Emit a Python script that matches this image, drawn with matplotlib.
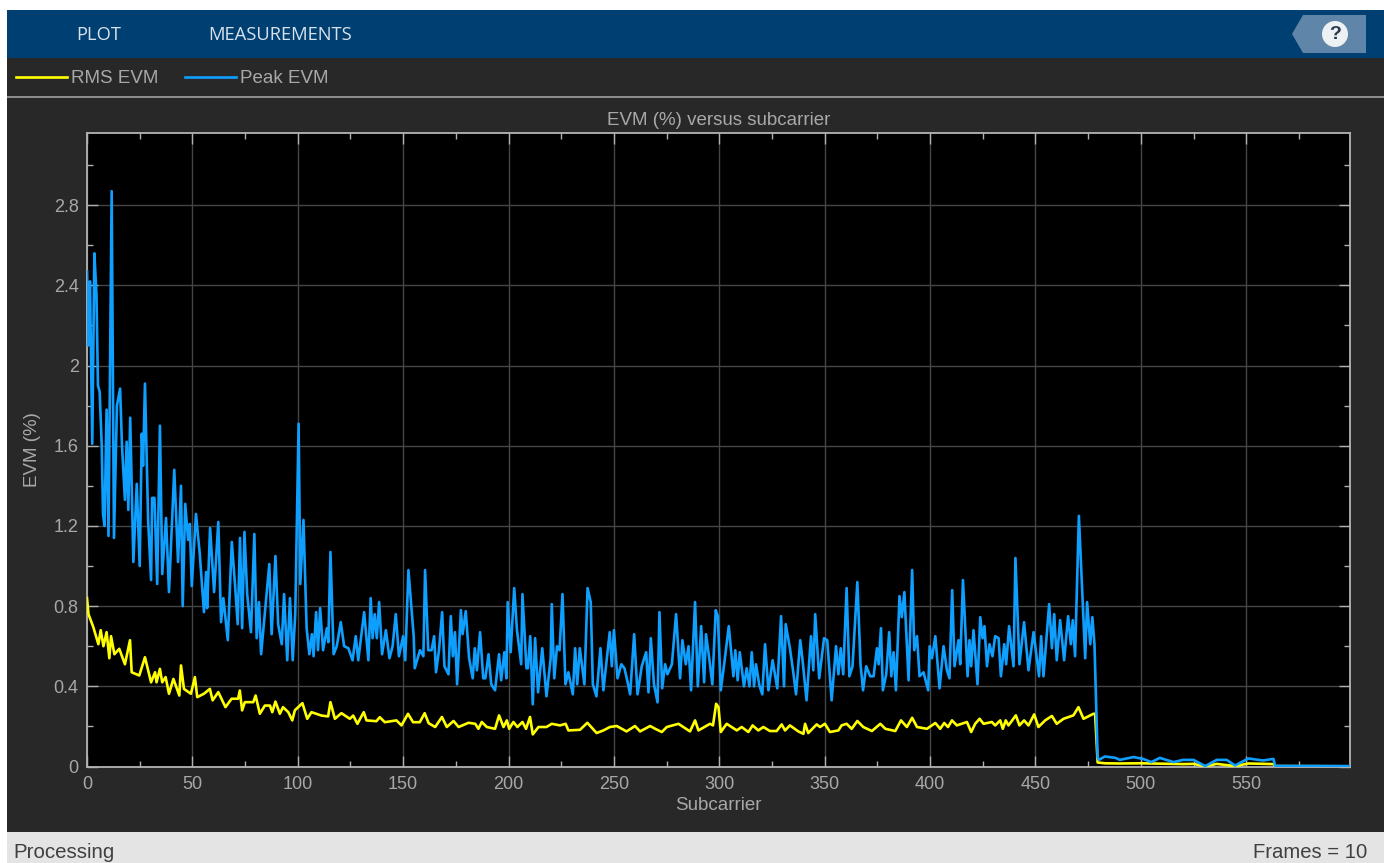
import matplotlib
matplotlib.use("Agg")
from matplotlib import pyplot as plt
from matplotlib.patches import Rectangle, Polygon, Circle
from matplotlib.ticker import MultipleLocator

W, H = 1384, 863

peak_x = [0, 0.6, 1.4, 2.5, 3.5, 4.5, 5.2, 6, 7, 7.6, 8.3, 9.3, 10.2, 11.7, 12.8, 14.2, 15.7, 16.6,
          18, 18.8, 19.6, 20.5, 22, 23.6, 25, 26, 26.6, 27.5, 29, 30.4, 30.9, 32, 33.3, 34.6, 35.7,
          37.5, 38.9, 41.4, 43.2, 44.6, 45.4, 46.6, 48, 48.8, 49.7, 51.7, 53.5, 55.5, 56.5, 57, 58.4,
          60.3, 62.3, 63.6, 64.7, 66.8, 68.7, 70.2, 71.5, 72.6, 73.6, 74.7, 76, 77.8, 79.4, 80.5,
          81.6, 82.6, 84.5, 86.5, 87.6, 89.4, 90.7, 92.4, 93.5, 95, 96.3, 97.6, 98.8, 100.4, 101.2,
          102.7, 104.2, 105.5, 106.7, 107.5, 108.7, 109.6, 110.6, 112, 113.8, 114.5, 115.5, 117,
          118.5, 120.4, 122, 124, 126, 127.5, 128.7, 131.5, 133.5, 134.6, 135.5, 136.5, 137.5, 138.6,
          140, 141.8, 143.5, 145, 146.5, 148, 150, 151, 152.5, 155, 155.5, 158, 159.6, 160.4, 161.9,
          163.5, 164.7, 165.6, 167, 168.5, 169.6, 171.5, 172.6, 173.6, 174.6, 175.6, 177.4, 178.2,
          179.7, 181.3, 183, 184, 185, 186.5, 188, 189, 190.5, 191.8, 193.6, 195.5, 196.5, 198, 199,
          199.6, 201, 202.7, 204, 206, 206.6, 208.5, 209.2, 210.3, 211.5, 212.6, 214, 216, 218, 220,
          220.5, 221.7, 223, 224.2, 225.6, 227, 228.4, 230.5, 231.6, 232.6, 233.8, 236, 237.5, 239,
          240, 241.7, 243.6, 245, 248, 249, 250, 251.7, 253.5, 255, 256.5,
          257.7, 259.6, 261.2, 263.2, 265.3, 266.4, 267.5, 269, 270.7, 271.6, 272.9, 274.3, 275.4,
          277.5, 279.5, 281.4, 282.5, 284.1, 285.4, 286.6, 288.5, 289.8, 291.4, 292.8, 293.7, 295.1,
          296.7, 298.3, 299.3, 300.7, 302.3, 304.5, 306.7, 307.6, 308.7, 309.7, 311.7, 313, 314.3,
          315.4, 316.5, 317.4, 319, 320.4, 321.7, 323.3, 325.3, 327.5, 329.3, 330.7, 331.5, 333.5,
          335.1, 336.4, 338.4, 339.5, 341.4, 343.5, 344.6, 345.5, 347.4, 349.7, 351.2, 353.3, 355.4,
          356.5, 357.6, 358.8, 360.4, 361.7, 363.2, 365.5, 367,
          368.2, 369.7, 371.6, 373.2, 374.8, 375.6, 376.7, 377.6, 379.2, 380.6, 381.6, 382.7, 383.8,
          385.5, 386.6, 387.8, 389.8, 391.5, 392.5, 393.8, 395, 396.9, 399.1, 399.8, 400.9, 402.5,
          404.5, 406.4, 408, 409.2, 410.5, 411.6, 413.5, 414.3, 415.6, 417.8, 418.7, 419.5, 420.6,
          422.5, 423.8, 424.9, 425.8, 427, 428.2, 429.6, 430.9, 432.5, 433.6, 435.2, 436.1, 437.5,
          439.6, 440.5, 442.4, 444.6, 446.7, 449.1, 451.7, 452.7, 453.8, 456.5, 457.8, 458.9, 460.1,
          461.7, 463.6, 465.5, 466.8, 467.7, 468.8, 470.6, 473.6, 474.5, 476, 477, 478, 479.5,
          480, 483, 488, 490, 496.5, 501, 505, 509, 515.5, 520, 525, 530.5, 536, 540.7, 544.7, 551,
          558, 562.9, 563.7, 599]
peak_y = [2.47, 2.1, 2.42, 1.61, 2.56, 2.35, 1.9, 1.87, 1.6, 1.26, 1.2, 1.78, 1.15, 2.87, 1.14, 1.8, 1.885, 1.6,
          1.33, 1.62, 1.28, 1.74, 1.02, 1.41, 1.0, 1.66, 1.5, 1.91, 1.23, 0.93, 1.34, 1.34, 0.91, 1.70, 0.96,
          1.24, 0.87, 1.48, 1.02, 1.40, 0.80, 1.31, 1.13, 1.21, 0.90, 1.26, 1.06, 0.77, 0.97, 0.79, 1.19,
          0.87, 1.22, 0.72, 0.84, 0.63, 1.12, 0.91, 0.71, 1.14, 0.69, 1.17, 0.86, 0.67, 1.16, 0.64,
          0.82, 0.56, 0.78, 1.01, 0.66, 1.05, 0.71, 0.61, 0.86, 0.53, 0.84, 0.53, 0.76, 1.71, 0.91,
          1.23, 0.69, 0.56, 0.66, 0.55, 0.77, 0.58, 0.79, 0.58, 0.69, 0.62, 1.07, 0.56,
          0.60, 0.72, 0.60, 0.59, 0.53, 0.65, 0.53, 0.77, 0.53, 0.84, 0.64, 0.76, 0.64, 0.82,
          0.56, 0.68, 0.54, 0.60, 0.76, 0.55, 0.65, 0.53, 0.98, 0.65, 0.49, 0.58, 0.55, 0.98, 0.58,
          0.58, 0.65, 0.47, 0.58, 0.77, 0.50, 0.46, 0.75, 0.55, 0.67, 0.41, 0.78, 0.66,
          0.775, 0.54, 0.44, 0.59, 0.48, 0.67, 0.44, 0.44, 0.56, 0.41, 0.38, 0.56, 0.43, 0.57, 0.44,
          0.82, 0.57, 0.89, 0.68, 0.51, 0.86, 0.49, 0.49, 0.65, 0.31, 0.64, 0.37, 0.59, 0.35, 0.54,
          0.81, 0.44, 0.60, 0.58, 0.86, 0.41, 0.47, 0.36, 0.59, 0.41, 0.59, 0.41, 0.89, 0.82,
          0.41, 0.35, 0.59, 0.38, 0.67, 0.50, 0.68, 0.44, 0.51, 0.49, 0.42,
          0.36, 0.66, 0.36, 0.50, 0.57, 0.37, 0.64, 0.41, 0.32, 0.77, 0.39, 0.51, 0.46,
          0.51, 0.76, 0.44, 0.63, 0.51, 0.60, 0.38, 0.82, 0.40, 0.70, 0.42, 0.66, 0.55,
          0.41, 0.78, 0.75, 0.38, 0.51, 0.70, 0.45, 0.58, 0.43, 0.57, 0.40, 0.49, 0.40,
          0.57, 0.40, 0.51, 0.405, 0.36, 0.61, 0.38, 0.53, 0.39, 0.75, 0.40, 0.71, 0.59,
          0.47, 0.36, 0.63, 0.53, 0.33, 0.65, 0.48, 0.76, 0.44, 0.64, 0.63, 0.33, 0.60,
          0.46, 0.59, 0.46, 0.89, 0.45, 0.50, 0.92, 0.51,
          0.38, 0.50, 0.45, 0.45, 0.59, 0.51, 0.69, 0.38, 0.46, 0.67, 0.45, 0.57, 0.38,
          0.85, 0.745, 0.87, 0.43, 0.98, 0.58, 0.65, 0.45, 0.47, 0.38, 0.60, 0.54, 0.65,
          0.39, 0.60, 0.48, 0.44, 0.88, 0.50, 0.63, 0.51, 0.93, 0.45, 0.63, 0.50, 0.68,
          0.41, 0.745, 0.64, 0.70, 0.50, 0.61, 0.55, 0.65, 0.64, 0.45, 0.61, 0.51, 0.70,
          0.50, 1.04, 0.51, 0.72, 0.48, 0.67, 0.45, 0.65, 0.45, 0.81, 0.59, 0.76, 0.53,
          0.73, 0.53, 0.75, 0.61, 0.73, 0.55, 1.25, 0.54, 0.82, 0.61, 0.745, 0.61, 0.045,
          0.033, 0.05, 0.043, 0.033, 0.047, 0.038, 0.022, 0.043, 0.022, 0.033, 0.033, 0.002, 0.033, 0.033, 0.005, 0.04,
          0.03, 0.038, 0.003, 0.002]

rms_x = [0, 0.7, 3, 5.4, 6.5, 7.8, 9.3, 10.6, 11.4, 13, 15.3, 18, 20.4, 21.2, 24.8, 27.5, 30.4, 32.3, 33, 34.6,
         35.7, 37.3, 38.9, 41, 43.8, 44.6, 46, 49.3, 51.2, 52.3, 55.5, 58.3, 59.6, 62.3, 65.7, 68.6, 71.7,
         72.5, 73.6, 74.9, 78.9, 80, 82, 84.4, 86.8, 87.9, 89.4, 91.5, 93, 95.5, 97.4, 98.6, 102.2, 104.5,
         106.5, 111.3, 114.4, 115.5, 117.6, 120.7, 124.7, 126.3, 128.3, 131.3, 132.6, 137.3, 138.9, 141.3,
         146.8, 149.2, 152.3, 154.7, 157.9, 160.2, 162.1, 165.2, 168.4, 170.7, 173.9, 176.3, 181, 184.2,
         185.7, 187.3, 189.7, 193.6, 195.5, 197.6, 199.2, 200.3, 202.3, 204.2, 206.6, 208.3, 210.2, 211.5,
         214.2, 218, 220.5, 224.4, 227.1, 228.4, 233.9, 237.4, 241.8, 245, 248.1, 251.3, 256, 260, 262.4,
         267.2, 269.6, 272.7, 275.1, 280.6, 286.1, 288.5, 290.1, 295.6, 297, 298.5, 299.6, 300.7, 303.5,
         308.3, 310.6, 313.8, 315.8, 318.5, 320.9, 324, 327.2, 329.6, 331.2, 333.5, 337.5, 339.9, 340.7,
         342.2, 346.2, 347.8, 350.1, 352.5, 356.5, 358, 360.4, 362.8, 365.5, 368.3, 372.4, 376.4, 378.8,
         383.5, 386.2, 389, 391.5, 393.8, 398.5, 402.5, 404.8, 406.7, 408.5, 410.4, 412.7, 417.5, 419.5,
         421.4, 423.5, 425.4, 429.3, 430.9, 433.3, 434.5, 435.9, 437.2, 440.7, 442.4, 444.6, 446.7, 449.4,
         451.4, 454.6, 457.8, 460.1, 463.3, 468, 470.4, 472.8, 477.5, 478.3, 479.5,
         483, 490, 500, 510, 520, 525, 530.5, 536, 544.7, 551, 562.9, 563.7, 599]
rms_y = [0.84, 0.76, 0.695, 0.61, 0.68, 0.60, 0.67, 0.54, 0.65, 0.56, 0.587, 0.51, 0.63, 0.47, 0.454, 0.545, 0.42, 0.47, 0.42, 0.487,
         0.42, 0.446, 0.363, 0.437, 0.354, 0.504, 0.387, 0.363, 0.446, 0.346, 0.363, 0.387, 0.33, 0.371, 0.296, 0.338, 0.338,
         0.379, 0.28, 0.321, 0.321, 0.354, 0.263, 0.304, 0.304, 0.271, 0.324, 0.263, 0.296, 0.271, 0.23, 0.28, 0.316, 0.238,
         0.271, 0.254, 0.25, 0.321, 0.238, 0.266, 0.238, 0.254, 0.213, 0.271, 0.23, 0.226, 0.246, 0.221,
         0.23, 0.205, 0.263, 0.221, 0.221, 0.266, 0.216, 0.197, 0.247, 0.197, 0.227, 0.197, 0.218, 0.213,
         0.188, 0.222, 0.197, 0.188, 0.255, 0.197, 0.23, 0.188, 0.222, 0.197, 0.222, 0.188, 0.247, 0.16,
         0.197, 0.197, 0.213, 0.205, 0.213, 0.18, 0.183, 0.218, 0.167, 0.18, 0.197, 0.202, 0.175, 0.202, 0.175,
         0.202, 0.188, 0.172, 0.197, 0.213, 0.175, 0.23, 0.18, 0.213, 0.205, 0.313, 0.296, 0.172, 0.213,
         0.18, 0.197, 0.172, 0.205, 0.18, 0.197, 0.177, 0.177, 0.21, 0.18, 0.205, 0.175, 0.163, 0.213,
         0.167, 0.21, 0.197, 0.213, 0.172, 0.18, 0.205, 0.213, 0.188, 0.227, 0.197, 0.177, 0.213, 0.188,
         0.177, 0.23, 0.197, 0.243, 0.197, 0.188, 0.217, 0.188, 0.217, 0.197, 0.23, 0.205, 0.222, 0.172,
         0.213, 0.238, 0.213, 0.222, 0.205, 0.23, 0.188, 0.23, 0.205, 0.255, 0.205, 0.23, 0.205, 0.26,
         0.197, 0.23, 0.252, 0.213, 0.238, 0.255, 0.296, 0.238, 0.263, 0.263, 0.02,
         0.016, 0.015, 0.016, 0.014, 0.012, 0.013, 0.001, 0.013, 0.002, 0.015, 0.012, 0.002, 0.001]

x_ticks = [0, 50, 100, 150, 200, 250, 300, 350, 400, 450, 500, 550]
y_ticks = [0, 0.4, 0.8, 1.2, 1.6, 2, 2.4, 2.8]
y_tick_labels = ["0", "0.4", "0.8", "1.2", "1.6", "2", "2.4", "2.8"]

plt.rcParams["font.family"] = ["Liberation Sans", "DejaVu Sans"]
GREY = "#a8a8a8"


def fx(px):
    return px / W


def fy(py):
    return 1 - py / H


def band(fig, left, top, right, bottom, color):
    fig.add_artist(Rectangle((fx(left), fy(bottom)), fx(right - left), (bottom - top) / H, zorder=-2,
                             transform=fig.transFigure, facecolor=color, edgecolor="none"))


fig = plt.figure(figsize=(W / 100, H / 100), dpi=100, facecolor="white")

# window chrome, kept under the axes
band(fig, 7, 10, W, 58, "#003f72")
band(fig, 7, 58, W, 832, "#282828")
band(fig, 7, 96, W, 98, "#8c8c8c")
band(fig, 7, 832, W, 863, "#e4e4e4")
fig.add_artist(Polygon([(fx(1292), fy(34)), (fx(1303), fy(15)), (fx(1366), fy(15)), (fx(1366), fy(53)), (fx(1303), fy(53))],
                       transform=fig.transFigure, facecolor="#5f86a8", edgecolor="none", zorder=-1))
help_ax = fig.add_axes([fx(1320), fy(49), 30 / W, 30 / H])
help_ax.axis("off")
help_ax.set_xlim(-15, 15)
help_ax.set_ylim(-15, 15)
help_ax.add_patch(Circle((0, 0), 13, facecolor="#eef1f4", edgecolor="none"))
help_ax.text(0, -0.5, "?", color="#2a3a50", fontsize=14, fontweight="bold", ha="center", va="center")

fig.text(fx(76), fy(35), "PLOT", color="#d8e2ec", fontsize=13.2, family="Open Sans", va="center")
fig.text(fx(208), fy(35), "MEASUREMENTS", color="#d8e2ec", fontsize=13.2, family="Open Sans", va="center")
fig.text(fx(13), fy(852), "Processing", color="#404040", fontsize=14.8, va="center")
fig.text(fx(1367), fy(852), "Frames = 10", color="#404040", fontsize=14.6, va="center", ha="right")

ax = fig.add_axes([fx(87), fy(766.5), (1349.5 - 87) / W, (766.5 - 133) / H], facecolor="black")
rms_line, = ax.plot(rms_x, rms_y, color="#ffff00", lw=1.9, label="RMS EVM", zorder=3)
peak_line, = ax.plot(peak_x, peak_y, color="#0f9fff", lw=1.9, label="Peak EVM", zorder=4)

ax.set_xlim(0, 599)
ax.set_ylim(0, 3.16)
ax.set_xticks(x_ticks)
ax.set_yticks(y_ticks)
ax.set_yticklabels(y_tick_labels)
ax.xaxis.set_minor_locator(MultipleLocator(25))
ax.yaxis.set_minor_locator(MultipleLocator(0.2))
ax.grid(True, which="major", color="#454545", lw=1.0)
ax.tick_params(which="major", direction="in", length=8, width=1, color="#b0b0b0", labelcolor=GREY,
               labelsize=13, top=True, right=True)
ax.tick_params(axis="x", which="major", pad=7)
ax.tick_params(axis="y", which="major", pad=6)
ax.tick_params(which="minor", direction="in", length=4, width=1, color="#b0b0b0", top=True, right=True)
for side in ax.spines.values():
    side.set_color("#b4b4b4")
    side.set_linewidth(1.3)

ax.set_title("EVM (%) versus subcarrier", color=GREY, fontsize=13.5, pad=6)
ax.set_xlabel("Subcarrier", color=GREY, fontsize=13.5, labelpad=3)
ax.set_ylabel("EVM (%)", color=GREY, fontsize=13.5, labelpad=9)

fig.legend(handles=[rms_line, peak_line], loc="upper left", bbox_to_anchor=(fx(16), fy(70)), ncol=2, frameon=False,
           fontsize=13.5, labelcolor=GREY, handlelength=2.72, handletextpad=0.2, columnspacing=1.45,
           borderpad=0, borderaxespad=0)

fig.savefig("out.png", dpi=100, facecolor="white")
